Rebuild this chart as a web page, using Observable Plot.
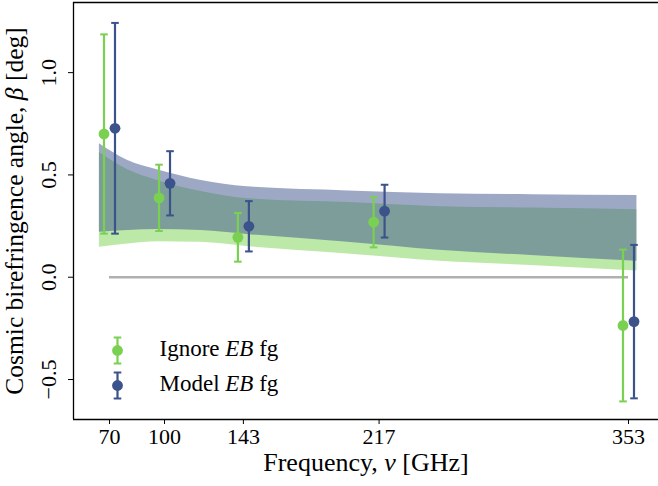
<!DOCTYPE html>
<html>
<head>
<meta charset="utf-8">
<script src="https://cdn.jsdelivr.net/npm/d3@7"></script>
<script src="https://cdn.jsdelivr.net/npm/@observablehq/plot@0.6"></script>
<style>
  html, body { margin: 0; padding: 0; background: #fff; }
  #chart { width: 658px; height: 486px; }
</style>
</head>
<body>
<div id="chart"></div>
<script>
// ---- data ----
const freqs = [70, 100, 143, 217, 353];
const ignoreBeta = [0.700, 0.388, 0.195, 0.269, -0.236];
const ignoreErr  = [0.487, 0.162, 0.119, 0.123, 0.371];
const modelBeta  = [0.728, 0.459, 0.249, 0.323, -0.217];
const modelErr   = [0.515, 0.157, 0.123, 0.129, 0.375];

const bandFreq  = [64.5, 80, 96, 120, 145, 200, 250, 300, 357.6];
const ignoreLo  = [0.147, 0.163, 0.174, 0.171, 0.150, 0.114, 0.078, 0.057, 0.030];
const ignoreHi  = [0.610, 0.525, 0.473, 0.419, 0.384, 0.365, 0.345, 0.338, 0.330];
const modelLo   = [0.220, 0.228, 0.233, 0.228, 0.209, 0.171, 0.132, 0.106, 0.078];
const modelHi   = [0.652, 0.570, 0.525, 0.473, 0.442, 0.422, 0.408, 0.403, 0.399];

const xTicks = [70, 100, 143, 217, 353];
const yTicks = [-0.5, 0.0, 0.5, 1.0];
const seriesNames = ["Ignore EB fg", "Model EB fg"];
const xLabel = "Frequency, ν [GHz]";
const yLabel = "Cosmic birefringence angle, β [deg]";

// ---- styling ----
const FONT = "Liberation Serif";
const GREEN = "#7ad151";
const BLUE = "#3b528b";
const xDomain = [50.37, 369.36];
const yDomain = [-0.6954, 1.3428];

const pts = (beta, err) => freqs.map((f, i) => ({f, b: beta[i], lo: beta[i] - err[i], hi: beta[i] + err[i]}));
const ignorePts = pts(ignoreBeta, ignoreErr);
const modelPts = pts(modelBeta, modelErr);
const band = bandFreq.map((f, i) => ({f, iLo: ignoreLo[i], iHi: ignoreHi[i], mLo: modelLo[i], mHi: modelHi[i]}));

const capSym = {draw(ctx) { ctx.moveTo(-3.8, 0); ctx.lineTo(3.8, 0); }};
const legSym = {draw(ctx) {
  ctx.moveTo(0, -13); ctx.lineTo(0, 13);
  ctx.moveTo(-3.8, -13); ctx.lineTo(3.8, -13);
  ctx.moveTo(-3.8, 13); ctx.lineTo(3.8, 13);
}};

function errMarks(data, color, dx) {
  return [
    Plot.ruleX(data, {x: "f", y1: "lo", y2: "hi", stroke: color, strokeWidth: 2.2, dx}),
    Plot.dot(data, {x: "f", y: "hi", symbol: capSym, stroke: color, strokeWidth: 2, r: 4, dx}),
    Plot.dot(data, {x: "f", y: "lo", symbol: capSym, stroke: color, strokeWidth: 2, r: 4, dx}),
    Plot.dot(data, {x: "f", y: "b", r: 5.4, fill: color, stroke: "none", dx})
  ];
}

const legend = [{label: seriesNames[0], color: GREEN}, {label: seriesNames[1], color: BLUE}];
const legendMarks = legend.flatMap((e, i) => {
  const dy = -69 + 35 * i;
  return [
    Plot.dot([e], {frameAnchor: "bottom-left", dx: 44, dy, symbol: legSym, r: 4, stroke: e.color, strokeWidth: 2.2}),
    Plot.dot([e], {frameAnchor: "bottom-left", dx: 44, dy, r: 5.4, fill: e.color, stroke: "none"}),
    Plot.text([e], {frameAnchor: "bottom-left", dx: 86, dy: dy - 1.5, text: "label", textAnchor: "start", lineAnchor: "middle",
      fontSize: 23, fontFamily: FONT, fill: "black"})
  ];
});

const fmt = d => (d < 0 ? "\u2212" : "") + Math.abs(d).toFixed(1);

const chart = Plot.plot({
  width: 658,
  height: 486,
  marginLeft: 73,
  marginRight: 0,
  marginTop: 2,
  marginBottom: 67,
  style: {fontFamily: FONT, fontSize: "22px", color: "black", background: "white"},
  x: {domain: xDomain},
  y: {domain: yDomain},
  marks: [
    Plot.ruleY([0], {x1: freqs[0], x2: freqs[freqs.length - 1], stroke: "#b0b0b0", strokeWidth: 2.5}),
    Plot.areaY(band, {x: "f", y1: "iLo", y2: "iHi", fill: GREEN, fillOpacity: 0.5, curve: "monotone-x"}),
    Plot.areaY(band, {x: "f", y1: "mLo", y2: "mHi", fill: BLUE, fillOpacity: 0.5, curve: "monotone-x"}),
    ...errMarks(ignorePts, GREEN, -5.5),
    ...errMarks(modelPts, BLUE, 5.5),
    Plot.ruleX([xDomain[0]], {stroke: "black", strokeWidth: 1.3}),
    Plot.ruleY([yDomain[0]], {stroke: "black", strokeWidth: 1.3}),
    Plot.ruleY([yDomain[1]], {stroke: "black", strokeWidth: 1.3}),
    Plot.axisX({ticks: xTicks, tickSize: 5, tickPadding: 4, tickFormat: d => String(d), label: null,
      fontSize: 22, fontFamily: FONT, stroke: "black", fill: "black"}),
    Plot.axisY({ticks: yTicks, tickSize: 5, tickFormat: () => "", label: null, stroke: "black"}),
    Plot.text(yTicks, {y: d => d, text: fmt, frameAnchor: "left", rotate: -90, dx: -25,
      textAnchor: "middle", lineAnchor: "middle", fontSize: 22, fontFamily: FONT, fill: "black"}),
    Plot.text([xLabel], {text: d => d, frameAnchor: "bottom", dy: 43, textAnchor: "middle", lineAnchor: "middle",
      fontSize: 26, fontFamily: FONT, fill: "black"}),
    Plot.text([yLabel], {text: d => d, frameAnchor: "left", rotate: -90, dx: -59, textAnchor: "middle", lineAnchor: "middle",
      fontSize: 25.5, fontFamily: FONT, fill: "black"}),
    ...legendMarks
  ]
});

function italicize(root, word) {
  const ns = "http://www.w3.org/2000/svg";
  root.querySelectorAll("text").forEach(t => {
    if (t.childElementCount === 0 && t.textContent.includes(word)) {
      const parts = t.textContent.split(word);
      t.textContent = "";
      parts.forEach((p, i) => {
        if (i > 0) {
          const ts = document.createElementNS(ns, "tspan");
          ts.setAttribute("font-style", "italic");
          ts.textContent = word;
          t.appendChild(ts);
        }
        if (p) t.appendChild(document.createTextNode(p));
      });
    }
  });
}
["EB", "ν", "β"].forEach(w => italicize(chart, w));

document.getElementById("chart").appendChild(chart);
</script>
</body>
</html>
